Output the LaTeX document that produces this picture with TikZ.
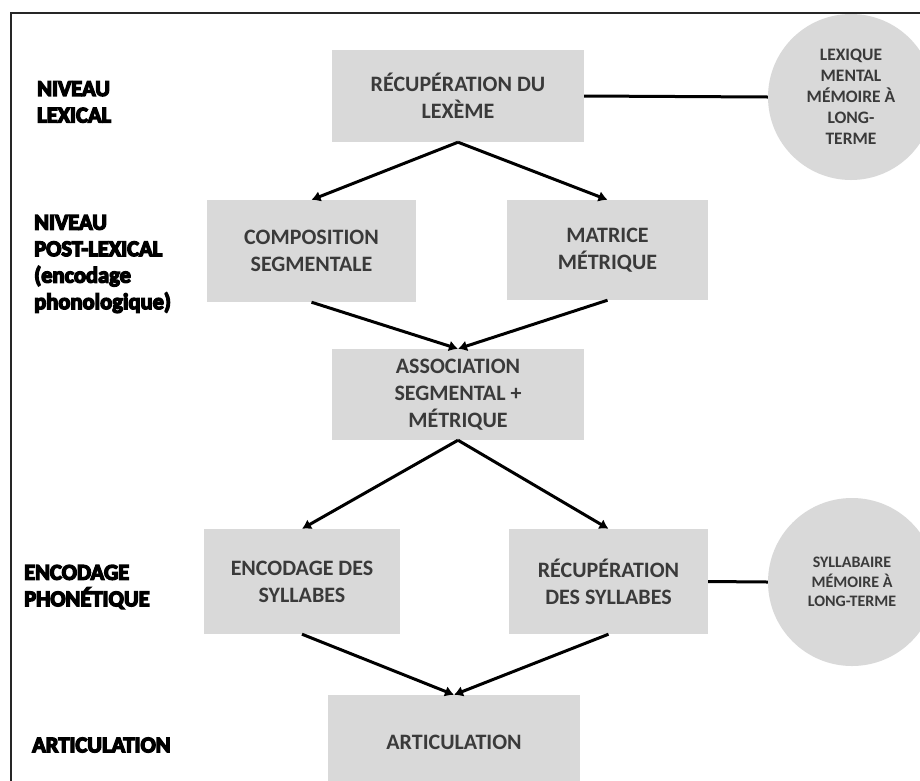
\documentclass[tikz,border=0pt]{standalone}
\usepackage{fontspec}
\setmainfont{Carlito}
\newfontfamily\lblfont{Carlito}[BoldFeatures={FakeBold=6}]
\usetikzlibrary{arrows.meta}
\definecolor{boxgray}{HTML}{D9D9D9}
\definecolor{txtgray}{HTML}{3A3A3A}
\tikzset{
  stagebox/.style={fill=boxgray, draw=none, inner sep=0pt, align=center, text=txtgray,
    font={\bfseries\fontsize{22}{27}\selectfont}},
  memcircle/.style={circle, fill=boxgray, draw=none, inner sep=0pt, align=center, text=txtgray},
  levellabel/.style={anchor=west, inner sep=0pt, align=left, text=black,
    font={\lblfont\bfseries\fontsize{22.5}{26.5}\selectfont}},
  flow/.style={line width=3pt, -{Latex[length=9pt,width=11pt]}},
  link/.style={line width=3pt},
}
\begin{document}
\begin{tikzpicture}[x=1pt,y=-1pt]
\useasboundingbox (0,0) rectangle (920,780);
\clip (0,0) rectangle (920,780);
\fill[white] (0,0) rectangle (920,780);
% frame
\draw[line width=1.8pt, color=black!85] (11,800) -- (11,13) -- (940,13);

% boxes
\node[stagebox, minimum width=252pt, minimum height=92pt] (b1) at (458,96) {RÉCUPÉRATION DU\\LEXÈME};
\node[stagebox, minimum width=209pt, minimum height=102pt] (b2) at (311.5,251) {COMPOSITION\\SEGMENTALE};
\node[stagebox, minimum width=201pt, minimum height=100pt] (b3) at (607.5,250) {MATRICE\\MÉTRIQUE};
\node[stagebox, minimum width=252pt, minimum height=91pt] (b4) at (458,394.5) {ASSOCIATION\\SEGMENTAL +\\MÉTRIQUE};
\node[stagebox, minimum width=196pt, minimum height=105pt] (b5) at (302,581.5) {ENCODAGE DES\\SYLLABES};
\node[stagebox, minimum width=199pt, minimum height=105pt] (b6) at (608.5,581.5) {RÉCUPÉRATION\\DES SYLLABES};
\node[stagebox, minimum width=252pt, minimum height=94pt] (b7) at (454,742) {ARTICULATION};

% memory circles
\node[memcircle, minimum size=166pt, font={\bfseries\fontsize{17.5}{21}\selectfont}] (c1) at (851,97)
  {LEXIQUE\\MENTAL\\MÉMOIRE À\\LONG-\\TERME};
\node[memcircle, minimum size=168pt, font={\bfseries\fontsize{16}{19.5}\selectfont}] (c2) at (852,582)
  {SYLLABAIRE\\MÉMOIRE À\\LONG-TERME};

% level labels
\node[levellabel] (l1) at (37,102) {NIVEAU\\LEXICAL};
\node[levellabel] (l2) at (34,264) {NIVEAU\\POST-LEXICAL\\(encodage\\phonologique)};
\node[levellabel] (l3) at (24,587) {ENCODAGE\\PHONÉTIQUE};
\node[levellabel] (l4) at (32,745) {ARTICULATION};

% connectors
\draw[link] (b1.east) -- (c1.west);
\draw[link] (b6.east) -- (c2.west);
\draw[flow] (b1.south) -- (b2.north);
\draw[flow] (b1.south) -- (b3.north);
\draw[flow] (b2.south) -- (b4.north);
\draw[flow] (b3.south) -- (b4.north);
\draw[flow] (b4.south) -- (b5.north);
\draw[flow] (b4.south) -- (b6.north);
\draw[flow] (b5.south) -- (b7.north);
\draw[flow] (b6.south) -- (b7.north);
\end{tikzpicture}
\end{document}
